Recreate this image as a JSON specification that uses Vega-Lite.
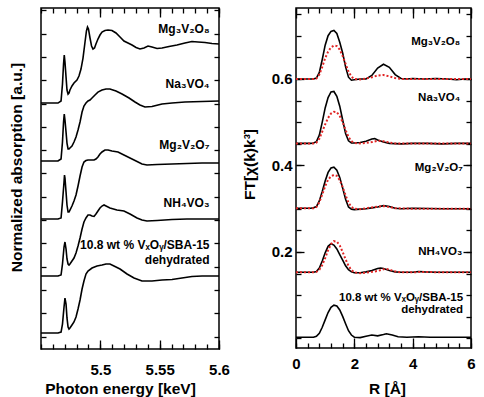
{
  "$schema": "https://vega.github.io/schema/vega-lite/v6.json",
  "background": "white",
  "padding": {"left": 8, "top": 6, "right": 5, "bottom": 3},
  "bounds": "flush",
  "spacing": 77,
  "config": {
    "view": {"stroke": "black", "strokeWidth": 1.5},
    "font": "Liberation Sans",
    "axis": {
      "domain": false, "grid": false,
      "labelFont": "Liberation Sans", "labelFontSize": 15, "labelFontWeight": "bold", "labelColor": "black",
      "titleFont": "Liberation Sans", "titleFontSize": 15.5, "titleFontWeight": "bold", "titleColor": "black",
      "tickColor": "black", "tickWidth": 1.3, "labelFlush": false
    },
    "text": {"font": "Liberation Sans", "fontWeight": "bold", "color": "black"}
  },
  "datasets": {
    "xanes": [
      {"s":"Mg3V2O8","e":5.4500,"a":2.505},{"s":"Mg3V2O8","e":5.4643,"a":2.505},{"s":"Mg3V2O8","e":5.4669,"a":2.527},
      {"s":"Mg3V2O8","e":5.4681,"a":2.709},{"s":"Mg3V2O8","e":5.4690,"a":2.924},{"s":"Mg3V2O8","e":5.4696,"a":3.020},
      {"s":"Mg3V2O8","e":5.4702,"a":2.945},{"s":"Mg3V2O8","e":5.4711,"a":2.784},{"s":"Mg3V2O8","e":5.4719,"a":2.645},
      {"s":"Mg3V2O8","e":5.4728,"a":2.602},{"s":"Mg3V2O8","e":5.4736,"a":2.613},{"s":"Mg3V2O8","e":5.4744,"a":2.645},
      {"s":"Mg3V2O8","e":5.4761,"a":2.688},{"s":"Mg3V2O8","e":5.4778,"a":2.720},{"s":"Mg3V2O8","e":5.4803,"a":2.752},
      {"s":"Mg3V2O8","e":5.4820,"a":2.795},{"s":"Mg3V2O8","e":5.4837,"a":2.870},{"s":"Mg3V2O8","e":5.4854,"a":2.988},
      {"s":"Mg3V2O8","e":5.4871,"a":3.160},{"s":"Mg3V2O8","e":5.4883,"a":3.278},{"s":"Mg3V2O8","e":5.4892,"a":3.321},
      {"s":"Mg3V2O8","e":5.4900,"a":3.300},{"s":"Mg3V2O8","e":5.4913,"a":3.203},{"s":"Mg3V2O8","e":5.4926,"a":3.117},
      {"s":"Mg3V2O8","e":5.4938,"a":3.085},{"s":"Mg3V2O8","e":5.4951,"a":3.096},{"s":"Mg3V2O8","e":5.4963,"a":3.139},
      {"s":"Mg3V2O8","e":5.4980,"a":3.192},{"s":"Mg3V2O8","e":5.4997,"a":3.235},{"s":"Mg3V2O8","e":5.5014,"a":3.267},
      {"s":"Mg3V2O8","e":5.5039,"a":3.283},{"s":"Mg3V2O8","e":5.5065,"a":3.289},{"s":"Mg3V2O8","e":5.5098,"a":3.283},
      {"s":"Mg3V2O8","e":5.5132,"a":3.257},{"s":"Mg3V2O8","e":5.5166,"a":3.214},{"s":"Mg3V2O8","e":5.5199,"a":3.171},
      {"s":"Mg3V2O8","e":5.5233,"a":3.149},{"s":"Mg3V2O8","e":5.5267,"a":3.128},{"s":"Mg3V2O8","e":5.5301,"a":3.101},
      {"s":"Mg3V2O8","e":5.5334,"a":3.085},{"s":"Mg3V2O8","e":5.5368,"a":3.096},{"s":"Mg3V2O8","e":5.5402,"a":3.117},
      {"s":"Mg3V2O8","e":5.5435,"a":3.106},{"s":"Mg3V2O8","e":5.5478,"a":3.090},{"s":"Mg3V2O8","e":5.5520,"a":3.096},
      {"s":"Mg3V2O8","e":5.5579,"a":3.112},{"s":"Mg3V2O8","e":5.5646,"a":3.128},{"s":"Mg3V2O8","e":5.5713,"a":3.149},
      {"s":"Mg3V2O8","e":5.5772,"a":3.165},{"s":"Mg3V2O8","e":5.5823,"a":3.160},{"s":"Mg3V2O8","e":5.5882,"a":3.155},
      {"s":"Mg3V2O8","e":5.5941,"a":3.144},{"s":"Mg3V2O8","e":5.6000,"a":3.139},

      {"s":"Na3VO4","e":5.4500,"a":1.883},{"s":"Na3VO4","e":5.4643,"a":1.883},{"s":"Na3VO4","e":5.4669,"a":1.905},
      {"s":"Na3VO4","e":5.4681,"a":2.087},{"s":"Na3VO4","e":5.4690,"a":2.302},{"s":"Na3VO4","e":5.4696,"a":2.387},
      {"s":"Na3VO4","e":5.4702,"a":2.323},{"s":"Na3VO4","e":5.4711,"a":2.194},{"s":"Na3VO4","e":5.4719,"a":2.076},
      {"s":"Na3VO4","e":5.4728,"a":2.012},{"s":"Na3VO4","e":5.4736,"a":2.012},{"s":"Na3VO4","e":5.4744,"a":2.023},
      {"s":"Na3VO4","e":5.4761,"a":2.044},{"s":"Na3VO4","e":5.4778,"a":2.087},{"s":"Na3VO4","e":5.4795,"a":2.141},
      {"s":"Na3VO4","e":5.4812,"a":2.216},{"s":"Na3VO4","e":5.4829,"a":2.302},{"s":"Na3VO4","e":5.4846,"a":2.409},
      {"s":"Na3VO4","e":5.4862,"a":2.473},{"s":"Na3VO4","e":5.4879,"a":2.505},{"s":"Na3VO4","e":5.4896,"a":2.527},
      {"s":"Na3VO4","e":5.4913,"a":2.538},{"s":"Na3VO4","e":5.4930,"a":2.559},{"s":"Na3VO4","e":5.4955,"a":2.591},
      {"s":"Na3VO4","e":5.4980,"a":2.623},{"s":"Na3VO4","e":5.5014,"a":2.645},{"s":"Na3VO4","e":5.5048,"a":2.656},
      {"s":"Na3VO4","e":5.5081,"a":2.656},{"s":"Na3VO4","e":5.5132,"a":2.634},{"s":"Na3VO4","e":5.5183,"a":2.602},
      {"s":"Na3VO4","e":5.5242,"a":2.559},{"s":"Na3VO4","e":5.5292,"a":2.516},{"s":"Na3VO4","e":5.5334,"a":2.484},
      {"s":"Na3VO4","e":5.5376,"a":2.463},{"s":"Na3VO4","e":5.5435,"a":2.468},{"s":"Na3VO4","e":5.5520,"a":2.495},
      {"s":"Na3VO4","e":5.5604,"a":2.505},{"s":"Na3VO4","e":5.5713,"a":2.516},{"s":"Na3VO4","e":5.5857,"a":2.522},
      {"s":"Na3VO4","e":5.6000,"a":2.527},

      {"s":"Mg2V2O7","e":5.4500,"a":1.261},{"s":"Mg2V2O7","e":5.4643,"a":1.261},{"s":"Mg2V2O7","e":5.4669,"a":1.272},
      {"s":"Mg2V2O7","e":5.4681,"a":1.443},{"s":"Mg2V2O7","e":5.4694,"a":1.658},{"s":"Mg2V2O7","e":5.4698,"a":1.733},
      {"s":"Mg2V2O7","e":5.4702,"a":1.701},{"s":"Mg2V2O7","e":5.4711,"a":1.550},{"s":"Mg2V2O7","e":5.4719,"a":1.411},
      {"s":"Mg2V2O7","e":5.4728,"a":1.336},{"s":"Mg2V2O7","e":5.4736,"a":1.336},{"s":"Mg2V2O7","e":5.4744,"a":1.357},
      {"s":"Mg2V2O7","e":5.4761,"a":1.400},{"s":"Mg2V2O7","e":5.4778,"a":1.454},{"s":"Mg2V2O7","e":5.4795,"a":1.518},
      {"s":"Mg2V2O7","e":5.4812,"a":1.615},{"s":"Mg2V2O7","e":5.4829,"a":1.722},{"s":"Mg2V2O7","e":5.4846,"a":1.819},
      {"s":"Mg2V2O7","e":5.4862,"a":1.872},{"s":"Mg2V2O7","e":5.4879,"a":1.888},{"s":"Mg2V2O7","e":5.4896,"a":1.894},
      {"s":"Mg2V2O7","e":5.4913,"a":1.894},{"s":"Mg2V2O7","e":5.4930,"a":1.894},{"s":"Mg2V2O7","e":5.4947,"a":1.894},
      {"s":"Mg2V2O7","e":5.4963,"a":1.905},{"s":"Mg2V2O7","e":5.4980,"a":1.926},{"s":"Mg2V2O7","e":5.4997,"a":1.958},
      {"s":"Mg2V2O7","e":5.5014,"a":1.980},{"s":"Mg2V2O7","e":5.5039,"a":2.001},{"s":"Mg2V2O7","e":5.5065,"a":2.001},
      {"s":"Mg2V2O7","e":5.5098,"a":1.990},{"s":"Mg2V2O7","e":5.5149,"a":1.980},{"s":"Mg2V2O7","e":5.5199,"a":1.947},
      {"s":"Mg2V2O7","e":5.5250,"a":1.915},{"s":"Mg2V2O7","e":5.5301,"a":1.883},{"s":"Mg2V2O7","e":5.5351,"a":1.851},
      {"s":"Mg2V2O7","e":5.5393,"a":1.840},{"s":"Mg2V2O7","e":5.5478,"a":1.846},{"s":"Mg2V2O7","e":5.5604,"a":1.851},
      {"s":"Mg2V2O7","e":5.5730,"a":1.856},{"s":"Mg2V2O7","e":5.5857,"a":1.862},{"s":"Mg2V2O7","e":5.6000,"a":1.862},

      {"s":"NH4VO3","e":5.4500,"a":0.649},{"s":"NH4VO3","e":5.4643,"a":0.649},{"s":"NH4VO3","e":5.4669,"a":0.660},
      {"s":"NH4VO3","e":5.4681,"a":0.778},{"s":"NH4VO3","e":5.4694,"a":0.960},{"s":"NH4VO3","e":5.4702,"a":1.014},
      {"s":"NH4VO3","e":5.4711,"a":0.939},{"s":"NH4VO3","e":5.4719,"a":0.832},{"s":"NH4VO3","e":5.4728,"a":0.778},
      {"s":"NH4VO3","e":5.4736,"a":0.767},{"s":"NH4VO3","e":5.4744,"a":0.778},{"s":"NH4VO3","e":5.4761,"a":0.810},
      {"s":"NH4VO3","e":5.4778,"a":0.842},{"s":"NH4VO3","e":5.4795,"a":0.896},{"s":"NH4VO3","e":5.4812,"a":0.971},
      {"s":"NH4VO3","e":5.4829,"a":1.057},{"s":"NH4VO3","e":5.4846,"a":1.153},{"s":"NH4VO3","e":5.4862,"a":1.229},
      {"s":"NH4VO3","e":5.4879,"a":1.272},{"s":"NH4VO3","e":5.4896,"a":1.304},{"s":"NH4VO3","e":5.4913,"a":1.304},
      {"s":"NH4VO3","e":5.4930,"a":1.293},{"s":"NH4VO3","e":5.4947,"a":1.288},{"s":"NH4VO3","e":5.4963,"a":1.314},
      {"s":"NH4VO3","e":5.4980,"a":1.347},{"s":"NH4VO3","e":5.4997,"a":1.379},{"s":"NH4VO3","e":5.5014,"a":1.400},
      {"s":"NH4VO3","e":5.5031,"a":1.411},{"s":"NH4VO3","e":5.5048,"a":1.400},{"s":"NH4VO3","e":5.5081,"a":1.379},
      {"s":"NH4VO3","e":5.5140,"a":1.357},{"s":"NH4VO3","e":5.5199,"a":1.347},{"s":"NH4VO3","e":5.5250,"a":1.314},
      {"s":"NH4VO3","e":5.5309,"a":1.272},{"s":"NH4VO3","e":5.5351,"a":1.250},{"s":"NH4VO3","e":5.5393,"a":1.239},
      {"s":"NH4VO3","e":5.5478,"a":1.245},{"s":"NH4VO3","e":5.5604,"a":1.255},{"s":"NH4VO3","e":5.5730,"a":1.261},
      {"s":"NH4VO3","e":5.5857,"a":1.261},{"s":"NH4VO3","e":5.6000,"a":1.261},

      {"s":"SBA15","e":5.4500,"a":0.038},{"s":"SBA15","e":5.4643,"a":0.038},{"s":"SBA15","e":5.4669,"a":0.048},
      {"s":"SBA15","e":5.4681,"a":0.134},{"s":"SBA15","e":5.4694,"a":0.317},{"s":"SBA15","e":5.4702,"a":0.413},
      {"s":"SBA15","e":5.4711,"a":0.349},{"s":"SBA15","e":5.4719,"a":0.199},{"s":"SBA15","e":5.4728,"a":0.102},
      {"s":"SBA15","e":5.4736,"a":0.080},{"s":"SBA15","e":5.4744,"a":0.091},{"s":"SBA15","e":5.4761,"a":0.123},
      {"s":"SBA15","e":5.4778,"a":0.156},{"s":"SBA15","e":5.4795,"a":0.209},{"s":"SBA15","e":5.4812,"a":0.295},
      {"s":"SBA15","e":5.4829,"a":0.392},{"s":"SBA15","e":5.4846,"a":0.510},{"s":"SBA15","e":5.4862,"a":0.596},
      {"s":"SBA15","e":5.4879,"a":0.671},{"s":"SBA15","e":5.4896,"a":0.703},{"s":"SBA15","e":5.4930,"a":0.735},
      {"s":"SBA15","e":5.4972,"a":0.756},{"s":"SBA15","e":5.5014,"a":0.767},{"s":"SBA15","e":5.5048,"a":0.778},
      {"s":"SBA15","e":5.5081,"a":0.778},{"s":"SBA15","e":5.5115,"a":0.756},{"s":"SBA15","e":5.5166,"a":0.724},
      {"s":"SBA15","e":5.5225,"a":0.671},{"s":"SBA15","e":5.5284,"a":0.628},{"s":"SBA15","e":5.5351,"a":0.596},
      {"s":"SBA15","e":5.5435,"a":0.596},{"s":"SBA15","e":5.5520,"a":0.606},{"s":"SBA15","e":5.5604,"a":0.612},
      {"s":"SBA15","e":5.5688,"a":0.628},{"s":"SBA15","e":5.5772,"a":0.644},{"s":"SBA15","e":5.5857,"a":0.649},
      {"s":"SBA15","e":5.5941,"a":0.649},{"s":"SBA15","e":5.6000,"a":0.649}
    ],
    "xanes_labels": [
      {"t":"Mg₃V₂O₈","e":5.592,"a":3.299},
      {"t":"Na₃VO₄","e":5.592,"a":2.709},
      {"t":"Mg₂V₂O₇","e":5.592,"a":2.055},
      {"t":"NH₄VO₃","e":5.592,"a":1.432},
      {"t":"10.8 wt % VₓOᵧ/SBA-15","e":5.592,"a":0.982},
      {"t":"dehydrated","e":5.592,"a":0.821}
    ],
    "ft": [
      {"s":"Mg3V2O8","k":"exp","r":0,"m":0.600},{"s":"Mg3V2O8","k":"exp","r":0.3,"m":0.600},{"s":"Mg3V2O8","k":"exp","r":0.6,"m":0.600},
      {"s":"Mg3V2O8","k":"exp","r":0.7,"m":0.602},{"s":"Mg3V2O8","k":"exp","r":0.8,"m":0.615},{"s":"Mg3V2O8","k":"exp","r":0.9,"m":0.645},
      {"s":"Mg3V2O8","k":"exp","r":1.0,"m":0.678},{"s":"Mg3V2O8","k":"exp","r":1.1,"m":0.700},{"s":"Mg3V2O8","k":"exp","r":1.2,"m":0.710},
      {"s":"Mg3V2O8","k":"exp","r":1.3,"m":0.712},{"s":"Mg3V2O8","k":"exp","r":1.4,"m":0.705},{"s":"Mg3V2O8","k":"exp","r":1.5,"m":0.685},
      {"s":"Mg3V2O8","k":"exp","r":1.6,"m":0.660},{"s":"Mg3V2O8","k":"exp","r":1.7,"m":0.628},{"s":"Mg3V2O8","k":"exp","r":1.8,"m":0.604},
      {"s":"Mg3V2O8","k":"exp","r":1.9,"m":0.597},{"s":"Mg3V2O8","k":"exp","r":2.0,"m":0.598},{"s":"Mg3V2O8","k":"exp","r":2.2,"m":0.600},
      {"s":"Mg3V2O8","k":"exp","r":2.4,"m":0.600},{"s":"Mg3V2O8","k":"exp","r":2.6,"m":0.608},{"s":"Mg3V2O8","k":"exp","r":2.8,"m":0.625},
      {"s":"Mg3V2O8","k":"exp","r":3.0,"m":0.634},{"s":"Mg3V2O8","k":"exp","r":3.2,"m":0.627},{"s":"Mg3V2O8","k":"exp","r":3.4,"m":0.610},
      {"s":"Mg3V2O8","k":"exp","r":3.6,"m":0.601},{"s":"Mg3V2O8","k":"exp","r":3.8,"m":0.600},{"s":"Mg3V2O8","k":"exp","r":4.0,"m":0.601},
      {"s":"Mg3V2O8","k":"exp","r":4.4,"m":0.600},{"s":"Mg3V2O8","k":"exp","r":4.8,"m":0.601},{"s":"Mg3V2O8","k":"exp","r":5.2,"m":0.600},
      {"s":"Mg3V2O8","k":"exp","r":5.5,"m":0.598},{"s":"Mg3V2O8","k":"exp","r":5.8,"m":0.600},{"s":"Mg3V2O8","k":"exp","r":6.0,"m":0.600},

      {"s":"Mg3V2O8","k":"fit","r":0,"m":0.600},{"s":"Mg3V2O8","k":"fit","r":0.6,"m":0.600},{"s":"Mg3V2O8","k":"fit","r":0.7,"m":0.601},
      {"s":"Mg3V2O8","k":"fit","r":0.8,"m":0.610},{"s":"Mg3V2O8","k":"fit","r":0.9,"m":0.628},{"s":"Mg3V2O8","k":"fit","r":1.0,"m":0.648},
      {"s":"Mg3V2O8","k":"fit","r":1.1,"m":0.663},{"s":"Mg3V2O8","k":"fit","r":1.2,"m":0.673},{"s":"Mg3V2O8","k":"fit","r":1.3,"m":0.677},
      {"s":"Mg3V2O8","k":"fit","r":1.4,"m":0.676},{"s":"Mg3V2O8","k":"fit","r":1.5,"m":0.668},{"s":"Mg3V2O8","k":"fit","r":1.6,"m":0.653},
      {"s":"Mg3V2O8","k":"fit","r":1.7,"m":0.635},{"s":"Mg3V2O8","k":"fit","r":1.8,"m":0.617},{"s":"Mg3V2O8","k":"fit","r":1.9,"m":0.605},
      {"s":"Mg3V2O8","k":"fit","r":2.0,"m":0.600},{"s":"Mg3V2O8","k":"fit","r":2.2,"m":0.599},{"s":"Mg3V2O8","k":"fit","r":2.4,"m":0.601},
      {"s":"Mg3V2O8","k":"fit","r":2.6,"m":0.604},{"s":"Mg3V2O8","k":"fit","r":2.8,"m":0.608},{"s":"Mg3V2O8","k":"fit","r":3.0,"m":0.609},
      {"s":"Mg3V2O8","k":"fit","r":3.2,"m":0.606},{"s":"Mg3V2O8","k":"fit","r":3.4,"m":0.602},{"s":"Mg3V2O8","k":"fit","r":3.6,"m":0.600},
      {"s":"Mg3V2O8","k":"fit","r":4.0,"m":0.600},{"s":"Mg3V2O8","k":"fit","r":5.0,"m":0.600},{"s":"Mg3V2O8","k":"fit","r":6.0,"m":0.600},

      {"s":"Na3VO4","k":"exp","r":0,"m":0.451},{"s":"Na3VO4","k":"exp","r":0.5,"m":0.451},{"s":"Na3VO4","k":"exp","r":0.6,"m":0.452},
      {"s":"Na3VO4","k":"exp","r":0.7,"m":0.455},{"s":"Na3VO4","k":"exp","r":0.8,"m":0.470},{"s":"Na3VO4","k":"exp","r":0.9,"m":0.500},
      {"s":"Na3VO4","k":"exp","r":1.0,"m":0.533},{"s":"Na3VO4","k":"exp","r":1.1,"m":0.557},{"s":"Na3VO4","k":"exp","r":1.2,"m":0.570},
      {"s":"Na3VO4","k":"exp","r":1.3,"m":0.571},{"s":"Na3VO4","k":"exp","r":1.4,"m":0.560},{"s":"Na3VO4","k":"exp","r":1.5,"m":0.537},
      {"s":"Na3VO4","k":"exp","r":1.6,"m":0.505},{"s":"Na3VO4","k":"exp","r":1.7,"m":0.474},{"s":"Na3VO4","k":"exp","r":1.8,"m":0.457},
      {"s":"Na3VO4","k":"exp","r":1.9,"m":0.452},{"s":"Na3VO4","k":"exp","r":2.0,"m":0.452},{"s":"Na3VO4","k":"exp","r":2.2,"m":0.453},
      {"s":"Na3VO4","k":"exp","r":2.4,"m":0.456},{"s":"Na3VO4","k":"exp","r":2.6,"m":0.461},{"s":"Na3VO4","k":"exp","r":2.7,"m":0.462},
      {"s":"Na3VO4","k":"exp","r":2.8,"m":0.459},{"s":"Na3VO4","k":"exp","r":3.0,"m":0.454},{"s":"Na3VO4","k":"exp","r":3.2,"m":0.451},
      {"s":"Na3VO4","k":"exp","r":3.6,"m":0.450},{"s":"Na3VO4","k":"exp","r":4.0,"m":0.451},{"s":"Na3VO4","k":"exp","r":4.5,"m":0.451},
      {"s":"Na3VO4","k":"exp","r":5.0,"m":0.450},{"s":"Na3VO4","k":"exp","r":5.5,"m":0.451},{"s":"Na3VO4","k":"exp","r":6.0,"m":0.451},

      {"s":"Na3VO4","k":"fit","r":0,"m":0.451},{"s":"Na3VO4","k":"fit","r":0.6,"m":0.451},{"s":"Na3VO4","k":"fit","r":0.7,"m":0.453},
      {"s":"Na3VO4","k":"fit","r":0.8,"m":0.462},{"s":"Na3VO4","k":"fit","r":0.9,"m":0.478},{"s":"Na3VO4","k":"fit","r":1.0,"m":0.495},
      {"s":"Na3VO4","k":"fit","r":1.1,"m":0.510},{"s":"Na3VO4","k":"fit","r":1.2,"m":0.520},{"s":"Na3VO4","k":"fit","r":1.3,"m":0.524},
      {"s":"Na3VO4","k":"fit","r":1.4,"m":0.523},{"s":"Na3VO4","k":"fit","r":1.5,"m":0.514},{"s":"Na3VO4","k":"fit","r":1.6,"m":0.500},
      {"s":"Na3VO4","k":"fit","r":1.7,"m":0.482},{"s":"Na3VO4","k":"fit","r":1.8,"m":0.466},{"s":"Na3VO4","k":"fit","r":1.9,"m":0.456},
      {"s":"Na3VO4","k":"fit","r":2.0,"m":0.452},{"s":"Na3VO4","k":"fit","r":2.2,"m":0.451},{"s":"Na3VO4","k":"fit","r":2.4,"m":0.452},
      {"s":"Na3VO4","k":"fit","r":2.6,"m":0.454},{"s":"Na3VO4","k":"fit","r":2.8,"m":0.457},{"s":"Na3VO4","k":"fit","r":3.0,"m":0.456},
      {"s":"Na3VO4","k":"fit","r":3.2,"m":0.453},{"s":"Na3VO4","k":"fit","r":3.4,"m":0.451},{"s":"Na3VO4","k":"fit","r":4.0,"m":0.451},
      {"s":"Na3VO4","k":"fit","r":5.0,"m":0.451},{"s":"Na3VO4","k":"fit","r":6.0,"m":0.451},

      {"s":"Mg2V2O7","k":"exp","r":0,"m":0.301},{"s":"Mg2V2O7","k":"exp","r":0.5,"m":0.301},{"s":"Mg2V2O7","k":"exp","r":0.6,"m":0.302},
      {"s":"Mg2V2O7","k":"exp","r":0.7,"m":0.305},{"s":"Mg2V2O7","k":"exp","r":0.8,"m":0.318},{"s":"Mg2V2O7","k":"exp","r":0.9,"m":0.340},
      {"s":"Mg2V2O7","k":"exp","r":1.0,"m":0.364},{"s":"Mg2V2O7","k":"exp","r":1.1,"m":0.384},{"s":"Mg2V2O7","k":"exp","r":1.2,"m":0.394},
      {"s":"Mg2V2O7","k":"exp","r":1.3,"m":0.396},{"s":"Mg2V2O7","k":"exp","r":1.4,"m":0.389},{"s":"Mg2V2O7","k":"exp","r":1.5,"m":0.372},
      {"s":"Mg2V2O7","k":"exp","r":1.6,"m":0.348},{"s":"Mg2V2O7","k":"exp","r":1.7,"m":0.322},{"s":"Mg2V2O7","k":"exp","r":1.8,"m":0.304},
      {"s":"Mg2V2O7","k":"exp","r":1.9,"m":0.299},{"s":"Mg2V2O7","k":"exp","r":2.0,"m":0.298},{"s":"Mg2V2O7","k":"exp","r":2.2,"m":0.299},
      {"s":"Mg2V2O7","k":"exp","r":2.4,"m":0.300},{"s":"Mg2V2O7","k":"exp","r":2.6,"m":0.302},{"s":"Mg2V2O7","k":"exp","r":2.8,"m":0.304},
      {"s":"Mg2V2O7","k":"exp","r":3.0,"m":0.307},{"s":"Mg2V2O7","k":"exp","r":3.2,"m":0.305},{"s":"Mg2V2O7","k":"exp","r":3.4,"m":0.301},
      {"s":"Mg2V2O7","k":"exp","r":3.6,"m":0.300},{"s":"Mg2V2O7","k":"exp","r":4.0,"m":0.301},{"s":"Mg2V2O7","k":"exp","r":5.0,"m":0.300},
      {"s":"Mg2V2O7","k":"exp","r":6.0,"m":0.300},

      {"s":"Mg2V2O7","k":"fit","r":0,"m":0.301},{"s":"Mg2V2O7","k":"fit","r":0.6,"m":0.301},{"s":"Mg2V2O7","k":"fit","r":0.7,"m":0.304},
      {"s":"Mg2V2O7","k":"fit","r":0.8,"m":0.315},{"s":"Mg2V2O7","k":"fit","r":0.9,"m":0.333},{"s":"Mg2V2O7","k":"fit","r":1.0,"m":0.352},
      {"s":"Mg2V2O7","k":"fit","r":1.1,"m":0.367},{"s":"Mg2V2O7","k":"fit","r":1.2,"m":0.375},{"s":"Mg2V2O7","k":"fit","r":1.3,"m":0.378},
      {"s":"Mg2V2O7","k":"fit","r":1.4,"m":0.376},{"s":"Mg2V2O7","k":"fit","r":1.5,"m":0.366},{"s":"Mg2V2O7","k":"fit","r":1.6,"m":0.350},
      {"s":"Mg2V2O7","k":"fit","r":1.7,"m":0.331},{"s":"Mg2V2O7","k":"fit","r":1.8,"m":0.314},{"s":"Mg2V2O7","k":"fit","r":1.9,"m":0.304},
      {"s":"Mg2V2O7","k":"fit","r":2.0,"m":0.300},{"s":"Mg2V2O7","k":"fit","r":2.2,"m":0.299},{"s":"Mg2V2O7","k":"fit","r":2.4,"m":0.301},
      {"s":"Mg2V2O7","k":"fit","r":2.6,"m":0.303},{"s":"Mg2V2O7","k":"fit","r":2.8,"m":0.305},{"s":"Mg2V2O7","k":"fit","r":3.0,"m":0.306},
      {"s":"Mg2V2O7","k":"fit","r":3.2,"m":0.304},{"s":"Mg2V2O7","k":"fit","r":3.4,"m":0.301},{"s":"Mg2V2O7","k":"fit","r":4.0,"m":0.300},
      {"s":"Mg2V2O7","k":"fit","r":5.0,"m":0.300},{"s":"Mg2V2O7","k":"fit","r":6.0,"m":0.300},

      {"s":"NH4VO3","k":"exp","r":0,"m":0.153},{"s":"NH4VO3","k":"exp","r":0.6,"m":0.153},{"s":"NH4VO3","k":"exp","r":0.7,"m":0.155},
      {"s":"NH4VO3","k":"exp","r":0.8,"m":0.163},{"s":"NH4VO3","k":"exp","r":0.9,"m":0.179},{"s":"NH4VO3","k":"exp","r":1.0,"m":0.198},
      {"s":"NH4VO3","k":"exp","r":1.1,"m":0.213},{"s":"NH4VO3","k":"exp","r":1.2,"m":0.219},{"s":"NH4VO3","k":"exp","r":1.3,"m":0.216},
      {"s":"NH4VO3","k":"exp","r":1.4,"m":0.207},{"s":"NH4VO3","k":"exp","r":1.5,"m":0.194},{"s":"NH4VO3","k":"exp","r":1.6,"m":0.181},
      {"s":"NH4VO3","k":"exp","r":1.7,"m":0.168},{"s":"NH4VO3","k":"exp","r":1.8,"m":0.159},{"s":"NH4VO3","k":"exp","r":1.9,"m":0.154},
      {"s":"NH4VO3","k":"exp","r":2.0,"m":0.152},{"s":"NH4VO3","k":"exp","r":2.2,"m":0.152},{"s":"NH4VO3","k":"exp","r":2.4,"m":0.154},
      {"s":"NH4VO3","k":"exp","r":2.6,"m":0.157},{"s":"NH4VO3","k":"exp","r":2.8,"m":0.162},{"s":"NH4VO3","k":"exp","r":2.9,"m":0.163},
      {"s":"NH4VO3","k":"exp","r":3.0,"m":0.162},{"s":"NH4VO3","k":"exp","r":3.2,"m":0.157},{"s":"NH4VO3","k":"exp","r":3.4,"m":0.154},
      {"s":"NH4VO3","k":"exp","r":3.6,"m":0.153},{"s":"NH4VO3","k":"exp","r":4.0,"m":0.153},{"s":"NH4VO3","k":"exp","r":4.2,"m":0.155},
      {"s":"NH4VO3","k":"exp","r":4.4,"m":0.154},{"s":"NH4VO3","k":"exp","r":4.8,"m":0.153},{"s":"NH4VO3","k":"exp","r":5.2,"m":0.153},
      {"s":"NH4VO3","k":"exp","r":6.0,"m":0.153},

      {"s":"NH4VO3","k":"fit","r":0,"m":0.153},{"s":"NH4VO3","k":"fit","r":0.6,"m":0.153},{"s":"NH4VO3","k":"fit","r":0.7,"m":0.154},
      {"s":"NH4VO3","k":"fit","r":0.8,"m":0.159},{"s":"NH4VO3","k":"fit","r":0.9,"m":0.170},{"s":"NH4VO3","k":"fit","r":1.0,"m":0.186},
      {"s":"NH4VO3","k":"fit","r":1.1,"m":0.204},{"s":"NH4VO3","k":"fit","r":1.2,"m":0.218},{"s":"NH4VO3","k":"fit","r":1.3,"m":0.225},
      {"s":"NH4VO3","k":"fit","r":1.4,"m":0.224},{"s":"NH4VO3","k":"fit","r":1.5,"m":0.215},{"s":"NH4VO3","k":"fit","r":1.6,"m":0.200},
      {"s":"NH4VO3","k":"fit","r":1.7,"m":0.183},{"s":"NH4VO3","k":"fit","r":1.8,"m":0.168},{"s":"NH4VO3","k":"fit","r":1.9,"m":0.158},
      {"s":"NH4VO3","k":"fit","r":2.0,"m":0.153},{"s":"NH4VO3","k":"fit","r":2.2,"m":0.151},{"s":"NH4VO3","k":"fit","r":2.4,"m":0.152},
      {"s":"NH4VO3","k":"fit","r":2.6,"m":0.154},{"s":"NH4VO3","k":"fit","r":2.8,"m":0.156},{"s":"NH4VO3","k":"fit","r":3.0,"m":0.160},
      {"s":"NH4VO3","k":"fit","r":3.1,"m":0.161},{"s":"NH4VO3","k":"fit","r":3.2,"m":0.159},{"s":"NH4VO3","k":"fit","r":3.4,"m":0.155},
      {"s":"NH4VO3","k":"fit","r":3.6,"m":0.153},{"s":"NH4VO3","k":"fit","r":4.0,"m":0.153},{"s":"NH4VO3","k":"fit","r":4.3,"m":0.154},
      {"s":"NH4VO3","k":"fit","r":5.0,"m":0.153},{"s":"NH4VO3","k":"fit","r":6.0,"m":0.153},

      {"s":"SBA15","k":"exp","r":0,"m":0.003},{"s":"SBA15","k":"exp","r":0.6,"m":0.003},{"s":"SBA15","k":"exp","r":0.7,"m":0.005},
      {"s":"SBA15","k":"exp","r":0.8,"m":0.012},{"s":"SBA15","k":"exp","r":0.9,"m":0.026},{"s":"SBA15","k":"exp","r":1.0,"m":0.043},
      {"s":"SBA15","k":"exp","r":1.1,"m":0.060},{"s":"SBA15","k":"exp","r":1.2,"m":0.072},{"s":"SBA15","k":"exp","r":1.3,"m":0.077},
      {"s":"SBA15","k":"exp","r":1.4,"m":0.075},{"s":"SBA15","k":"exp","r":1.5,"m":0.066},{"s":"SBA15","k":"exp","r":1.6,"m":0.051},
      {"s":"SBA15","k":"exp","r":1.7,"m":0.034},{"s":"SBA15","k":"exp","r":1.8,"m":0.018},{"s":"SBA15","k":"exp","r":1.9,"m":0.008},
      {"s":"SBA15","k":"exp","r":2.0,"m":0.003},{"s":"SBA15","k":"exp","r":2.2,"m":0.002},{"s":"SBA15","k":"exp","r":2.4,"m":0.005},
      {"s":"SBA15","k":"exp","r":2.6,"m":0.008},{"s":"SBA15","k":"exp","r":2.8,"m":0.006},{"s":"SBA15","k":"exp","r":3.0,"m":0.009},
      {"s":"SBA15","k":"exp","r":3.1,"m":0.011},{"s":"SBA15","k":"exp","r":3.3,"m":0.008},{"s":"SBA15","k":"exp","r":3.5,"m":0.004},
      {"s":"SBA15","k":"exp","r":3.8,"m":0.003},{"s":"SBA15","k":"exp","r":4.2,"m":0.004},{"s":"SBA15","k":"exp","r":4.6,"m":0.003},
      {"s":"SBA15","k":"exp","r":5.0,"m":0.003},{"s":"SBA15","k":"exp","r":6.0,"m":0.003}
    ],
    "ft_labels": [
      {"t":"Mg₃V₂O₈","r":5.63,"m":0.686},
      {"t":"Na₃VO₄","r":5.63,"m":0.556},
      {"t":"Mg₂V₂O₇","r":5.72,"m":0.393},
      {"t":"NH₄VO₃","r":5.70,"m":0.200},
      {"t":"10.8 wt % VₓOᵧ/SBA-15","r":5.73,"m":0.094},
      {"t":"dehydrated","r":5.73,"m":0.066}
    ]
  },
  "hconcat": [
    {
      "width": 178,
      "height": 341,
      "resolve": {"axis": {"x": "independent", "y": "independent"}},
      "layer": [
        {
          "data": {"name": "xanes"},
          "mark": {"type": "line", "color": "black", "strokeWidth": 1.6},
          "encoding": {
            "x": {"field": "e", "type": "quantitative",
                  "scale": {"domain": [5.45, 5.6], "nice": false, "zero": false},
                  "axis": {"orient": "bottom", "values": [5.5, 5.55, 5.6], "format": "~g", "offset": -9, "tickSize": 9,
                           "labelPadding": 13, "title": "Photon energy [keV]",
                           "titleX": 79, "titleY": 48, "titleBaseline": "middle"}},
            "y": {"field": "a", "type": "quantitative",
                  "scale": {"domain": [-0.134, 3.525], "nice": false, "zero": false},
                  "axis": {"orient": "left", "values": [0, 0.25, 0.5, 0.75, 1, 1.25, 1.5, 1.75, 2, 2.25, 2.5, 2.75, 3, 3.25, 3.5],
                           "labels": false, "offset": -5, "tickSize": 5, "title": "Normalized absorption [a.u.]",
                           "titleX": -30, "titleY": 159, "titleBaseline": "middle"}},
            "detail": {"field": "s"}
          }
        },
        {
          "data": {"name": "xanes_labels"},
          "mark": {"type": "text", "align": "right", "baseline": "middle", "fontSize": 12},
          "encoding": {
            "x": {"field": "e", "type": "quantitative",
                  "scale": {"domain": [5.45, 5.6], "nice": false, "zero": false},
                  "axis": {"orient": "top", "values": [5.5, 5.55, 5.6], "labels": false, "offset": -9, "tickSize": 9, "title": null}},
            "y": {"field": "a", "type": "quantitative",
                  "scale": {"domain": [-0.134, 3.525], "nice": false, "zero": false},
                  "axis": {"orient": "right", "values": [0, 0.25, 0.5, 0.75, 1, 1.25, 1.5, 1.75, 2, 2.25, 2.5, 2.75, 3, 3.25, 3.5],
                           "labels": false, "offset": -5, "tickSize": 5, "title": null}},
            "text": {"field": "t"}
          }
        },
        {
          "data": {"name": "xanes"},
          "mark": {"type": "line", "strokeOpacity": 0},
          "encoding": {
            "x": {"field": "e", "type": "quantitative",
                  "scale": {"domain": [5.45, 5.6], "nice": false, "zero": false},
                  "axis": {"orient": "bottom", "values": [5.45, 5.46, 5.47, 5.48, 5.49, 5.5, 5.51, 5.52, 5.53, 5.54, 5.55, 5.56, 5.57, 5.58, 5.59, 5.6],
                           "labels": false, "offset": -5, "tickSize": 5, "title": null}},
            "y": {"field": "a", "type": "quantitative",
                  "scale": {"domain": [-0.134, 3.525], "nice": false, "zero": false}, "axis": null},
            "detail": {"field": "s"}
          }
        },
        {
          "data": {"name": "xanes"},
          "mark": {"type": "line", "strokeOpacity": 0},
          "encoding": {
            "x": {"field": "e", "type": "quantitative",
                  "scale": {"domain": [5.45, 5.6], "nice": false, "zero": false},
                  "axis": {"orient": "top", "values": [5.45, 5.46, 5.47, 5.48, 5.49, 5.5, 5.51, 5.52, 5.53, 5.54, 5.55, 5.56, 5.57, 5.58, 5.59, 5.6],
                           "labels": false, "offset": -5, "tickSize": 5, "title": null}},
            "y": {"field": "a", "type": "quantitative",
                  "scale": {"domain": [-0.134, 3.525], "nice": false, "zero": false}, "axis": null},
            "detail": {"field": "s"}
          }
        }
      ]
    },
    {
      "width": 175,
      "height": 340,
      "resolve": {"axis": {"x": "independent", "y": "independent"}},
      "layer": [
        {
          "data": {"name": "ft"},
          "transform": [{"filter": "datum.k === 'exp'"}],
          "mark": {"type": "line", "color": "black", "strokeWidth": 1.6},
          "encoding": {
            "x": {"field": "r", "type": "quantitative",
                  "scale": {"domain": [0, 6], "nice": false},
                  "axis": {"orient": "bottom", "values": [0, 2, 4, 6], "format": "d", "offset": -10, "tickSize": 10,
                           "labelPadding": 8, "title": "R [Å]", "titleX": 91, "titleY": 50, "titleBaseline": "middle"}},
            "y": {"field": "m", "type": "quantitative",
                  "scale": {"domain": [-0.022, 0.764], "nice": false, "zero": false},
                  "axis": {"orient": "left", "values": [0.2, 0.4, 0.6], "format": ".1f", "offset": -8, "tickSize": 8,
                           "labelPadding": 4, "title": "FT[χ(k)k³]", "titleX": -55, "titleY": 156, "titleBaseline": "middle"}},
            "detail": {"field": "s"}
          }
        },
        {
          "data": {"name": "ft"},
          "transform": [{"filter": "datum.k === 'fit'"}],
          "mark": {"type": "line", "color": "#e02424", "strokeWidth": 2, "strokeDash": [2, 2]},
          "encoding": {
            "x": {"field": "r", "type": "quantitative",
                  "scale": {"domain": [0, 6], "nice": false},
                  "axis": {"orient": "top", "values": [0, 2, 4, 6], "labels": false, "offset": -10, "tickSize": 10, "title": null}},
            "y": {"field": "m", "type": "quantitative",
                  "scale": {"domain": [-0.022, 0.764], "nice": false, "zero": false},
                  "axis": {"orient": "right", "values": [0.2, 0.4, 0.6], "labels": false, "offset": -8, "tickSize": 8, "title": null}},
            "detail": {"field": "s"}
          }
        },
        {
          "data": {"name": "ft_labels"},
          "mark": {"type": "text", "align": "right", "baseline": "middle", "fontSize": 11.5},
          "encoding": {
            "x": {"field": "r", "type": "quantitative",
                  "scale": {"domain": [0, 6], "nice": false},
                  "axis": {"orient": "bottom", "values": [0, 0.4, 0.8, 1.2, 1.6, 2, 2.4, 2.8, 3.2, 3.6, 4, 4.4, 4.8, 5.2, 5.6, 6],
                           "labels": false, "offset": -5, "tickSize": 5, "title": null}},
            "y": {"field": "m", "type": "quantitative",
                  "scale": {"domain": [-0.022, 0.764], "nice": false, "zero": false},
                  "axis": {"orient": "left", "values": [0, 0.05, 0.1, 0.15, 0.2, 0.25, 0.3, 0.35, 0.4, 0.45, 0.5, 0.55, 0.6, 0.65, 0.7, 0.75],
                           "labels": false, "offset": -5, "tickSize": 5, "title": null}},
            "text": {"field": "t"}
          }
        },
        {
          "data": {"name": "ft"},
          "mark": {"type": "line", "strokeOpacity": 0},
          "encoding": {
            "x": {"field": "r", "type": "quantitative",
                  "scale": {"domain": [0, 6], "nice": false},
                  "axis": {"orient": "top", "values": [0, 0.4, 0.8, 1.2, 1.6, 2, 2.4, 2.8, 3.2, 3.6, 4, 4.4, 4.8, 5.2, 5.6, 6],
                           "labels": false, "offset": -5, "tickSize": 5, "title": null}},
            "y": {"field": "m", "type": "quantitative",
                  "scale": {"domain": [-0.022, 0.764], "nice": false, "zero": false},
                  "axis": {"orient": "right", "values": [0, 0.05, 0.1, 0.15, 0.2, 0.25, 0.3, 0.35, 0.4, 0.45, 0.5, 0.55, 0.6, 0.65, 0.7, 0.75],
                           "labels": false, "offset": -5, "tickSize": 5, "title": null}},
            "detail": {"field": "s"}
          }
        }
      ]
    }
  ]
}
